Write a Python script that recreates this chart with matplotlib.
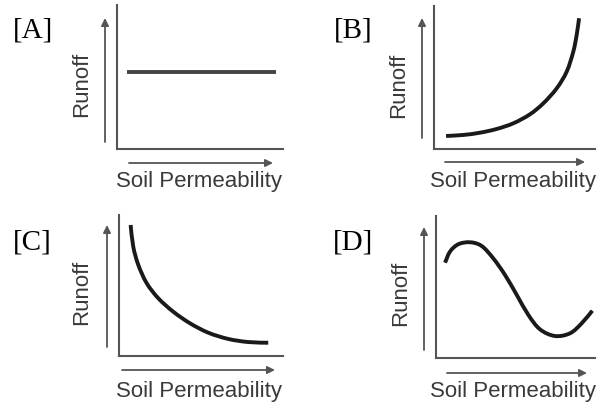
import matplotlib
matplotlib.use("Agg")
import matplotlib.pyplot as plt
from matplotlib.path import Path
from matplotlib.patches import PathPatch, FancyArrowPatch

# ---- data (arbitrary units, 0-10 on both axes) ----
panel_labels = ["[A]", "[B]", "[C]", "[D]"]
x_label = "Soil Permeability"
y_label = "Runoff"

a_perm = [0.6, 9.58]
a_runoff = [5.35, 5.35]

b_perm = [0.75, 1.82, 2.86, 3.89, 4.93, 5.96, 6.79, 7.62, 8.24, 8.65, 8.86, 9.01]
b_runoff = [0.88, 0.95, 1.11, 1.37, 1.77, 2.40, 3.17, 4.22, 5.39, 6.79, 7.96, 9.14]

c_perm = [0.71, 0.87, 1.18, 1.69, 2.40, 3.31, 4.33, 5.45, 6.66, 7.88, 9.10]
c_runoff = [9.29, 7.75, 6.45, 5.16, 4.09, 3.14, 2.32, 1.65, 1.21, 0.99, 0.94]

d_perm = [0.57, 0.88, 1.40, 2.14, 2.87, 3.60, 4.34, 5.08, 5.81, 6.54, 7.48, 8.43, 9.16, 9.83]
d_runoff = [6.71, 7.49, 8.01, 8.15, 7.89, 7.02, 5.85, 4.44, 3.03, 2.02, 1.55, 1.74, 2.44, 3.33]

series = [(a_perm, a_runoff), (b_perm, b_runoff), (c_perm, c_runoff), (d_perm, d_runoff)]


def smooth_path(xs, ys):
    """Cubic Bezier path passing through every read point (Catmull-Rom style)."""
    pts = list(zip(xs, ys))
    n = len(pts)
    verts = [pts[0]]
    codes = [Path.MOVETO]
    if n == 2:
        verts.append(pts[1])
        codes.append(Path.LINETO)
        return Path(verts, codes)
    for i in range(n - 1):
        p0 = pts[i - 1] if i > 0 else pts[i]
        p1 = pts[i]
        p2 = pts[i + 1]
        p3 = pts[i + 2] if i + 2 < n else pts[i + 1]
        c1 = (p1[0] + (p2[0] - p0[0]) / 6, p1[1] + (p2[1] - p0[1]) / 6)
        c2 = (p2[0] - (p3[0] - p1[0]) / 6, p2[1] - (p3[1] - p1[1]) / 6)
        verts += [c1, c2, p2]
        codes += [Path.CURVE4] * 3
    return Path(verts, codes)


# ---- layout (pixels) ----
W, H = 609, 403
fig = plt.figure(figsize=(W / 100, H / 100), dpi=100)
fig.patch.set_facecolor("white")


def fx(x):
    return x / W


def fy(y):
    return 1 - y / H


boxes = [(117, 283, 5, 149), (434, 595, 6, 148.5), (119, 283, 215, 356), (436, 595, 216, 358)]
up_arrows = [(105, 142, 18), (422, 138, 18), (107, 347, 225), (424, 350, 227)]
right_arrows = [(163, 129, 273), (162, 445, 585), (370, 122, 275), (373, 447, 587)]
ylab_pos = [(81.5, 84), (399, 85), (82, 292), (401, 293)]
xlab_pos = [(199.5, 181), (513.5, 181), (199.5, 392), (513, 392)]
tag_pos = [(13, 31), (334, 31), (13, 243), (333, 243)]
line_colors = ["#444444", "#1a1a1a", "#1a1a1a", "#1a1a1a"]

axis_color = "#555555"
text_color = "#3a3a3a"

for i in range(4):
    l, r, t, b = boxes[i]
    ax = fig.add_axes([fx(l), fy(b), (r - l) / W, (b - t) / H])
    ax.set_xlim(0, 10)
    ax.set_ylim(0, 10)
    for s in ["top", "right"]:
        ax.spines[s].set_visible(False)
    for s in ["left", "bottom"]:
        ax.spines[s].set_color(axis_color)
        ax.spines[s].set_linewidth(1.5)
    ax.set_xticks([])
    ax.set_yticks([])
    ax.patch.set_alpha(0)
    xs, ys = series[i]
    ax.add_patch(PathPatch(smooth_path(xs, ys), facecolor="none",
                           edgecolor=line_colors[i], lw=2.8, capstyle="butt",
                           joinstyle="round"))

    ux, uy0, uy1 = up_arrows[i]
    fig.add_artist(FancyArrowPatch(
        (fx(ux), fy(uy0)), (fx(ux), fy(uy1)), transform=fig.transFigure,
        arrowstyle="-|>", mutation_scale=11, lw=1.3, color=axis_color,
        shrinkA=0, shrinkB=0))
    ry, rx0, rx1 = right_arrows[i]
    fig.add_artist(FancyArrowPatch(
        (fx(rx0), fy(ry)), (fx(rx1), fy(ry)), transform=fig.transFigure,
        arrowstyle="-|>", mutation_scale=11, lw=1.3, color=axis_color,
        shrinkA=0, shrinkB=0))

    yx, yy = ylab_pos[i]
    fig.text(fx(yx), fy(yy), y_label, rotation=90, ha="center", va="center",
             fontsize=16, family="Liberation Sans", color=text_color)
    xx, xy = xlab_pos[i]
    fig.text(fx(xx), fy(xy), x_label, ha="center", va="center",
             fontsize=16, family="Liberation Sans", color=text_color)
    tx, ty = tag_pos[i]
    fig.text(fx(tx), fy(ty), panel_labels[i], ha="left", va="center",
             fontsize=21, family="Liberation Serif", color="black")

fig.savefig("out.png", dpi=100, facecolor="white")
